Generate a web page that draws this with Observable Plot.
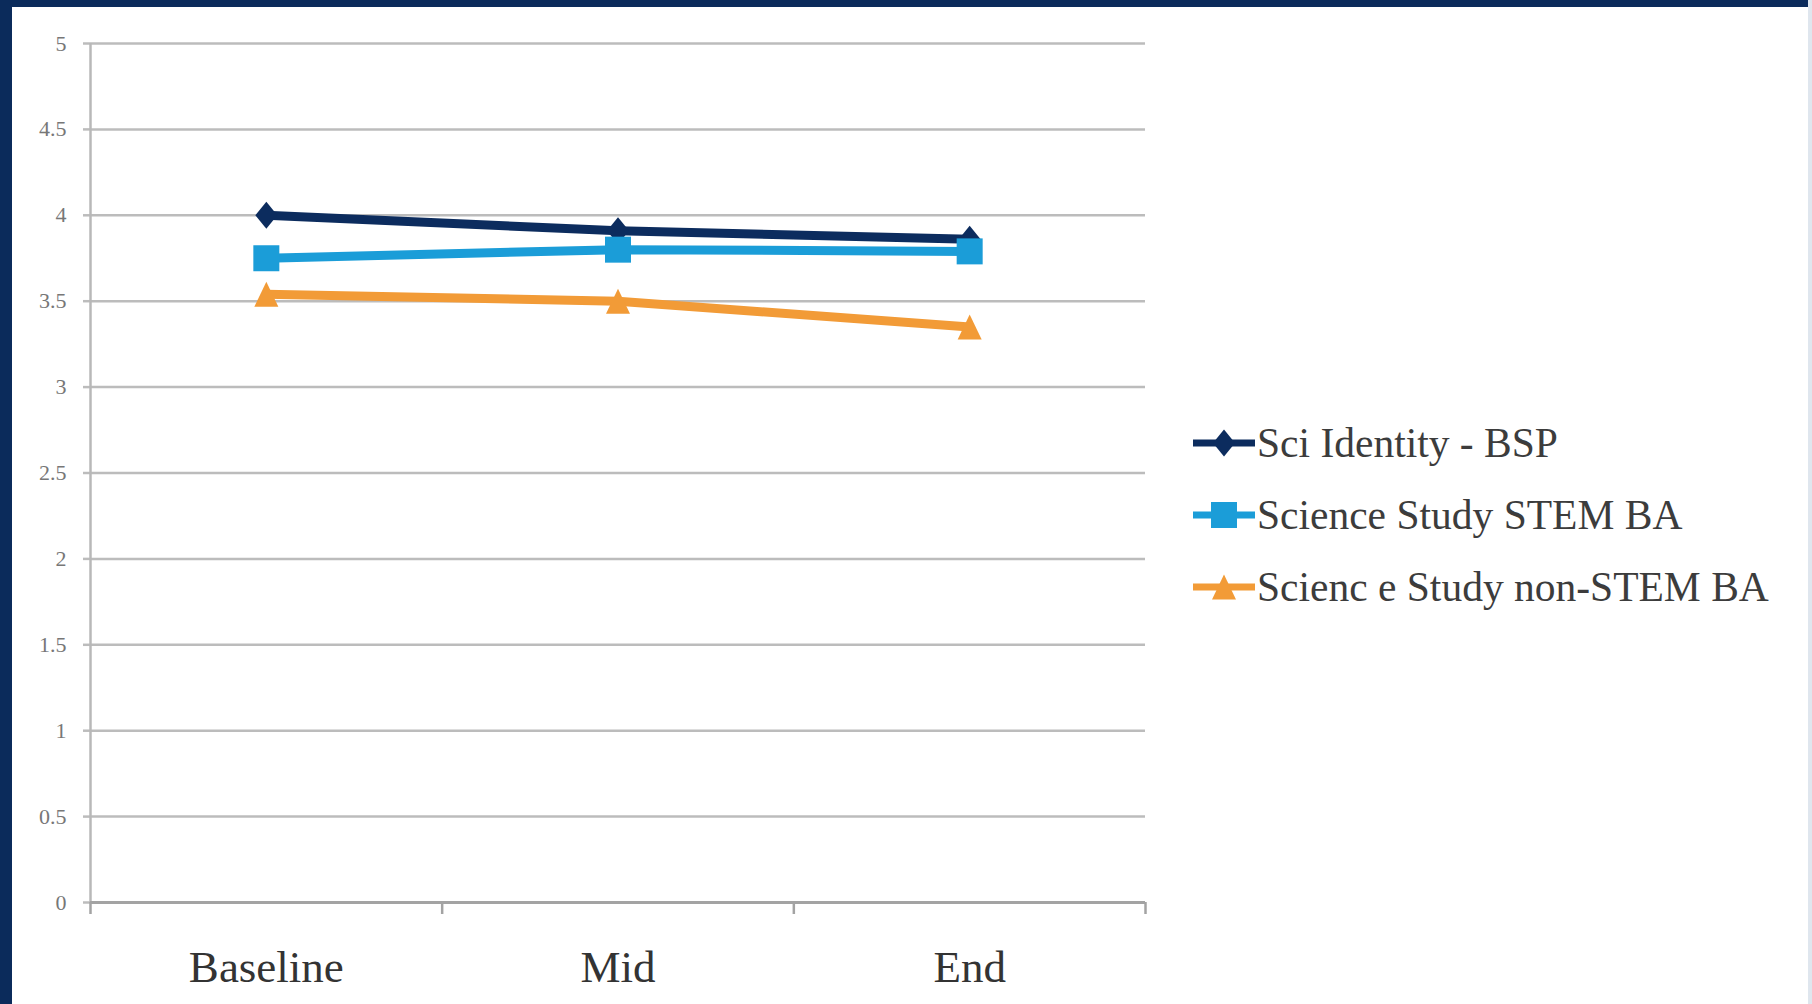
<!DOCTYPE html>
<html>
<head>
<meta charset="utf-8">
<script src="https://cdn.jsdelivr.net/npm/d3@7"></script>
<script src="https://cdn.jsdelivr.net/npm/@observablehq/plot@0.6"></script>
<style>
  html, body { margin: 0; padding: 0; background: #ffffff; }
  #frame { position: relative; width: 1812px; height: 1004px; background: #ffffff; overflow: hidden; }
  #frame .edge { position: absolute; background: #0b2b5b; }
  #chart { position: absolute; left: 0; top: 0; }
  #legend { position: absolute; left: 1193px; top: 418px; font-family: "Liberation Serif", serif; font-size: 41.5px; color: #3c3c3c; }
  #legend .row { display: flex; align-items: center; height: 50px; margin-bottom: 22px; white-space: nowrap; }
  #legend svg { display: block; margin-right: 2px; }
</style>
</head>
<body>
<div id="frame">
  <div class="edge" style="left:0;top:0;width:1812px;height:7px"></div>
  <div class="edge" style="left:0;top:0;width:12px;height:1004px"></div>
  <div class="edge" style="right:0;top:0;width:4px;height:1004px;background:#dfe6ee"></div>
  <div id="chart"></div>
  <div id="legend"></div>
</div>
<script>
// Survey periods along the x axis
const periods = ["Baseline", "Mid", "End"];

// Series names and mean scores at each period
const seriesNames = ["Sci Identity - BSP", "Science Study STEM BA", "Scienc e Study non-STEM BA"];
const sciIdentityBSP = [4.00, 3.91, 3.86];
const scienceStudySTEM = [3.75, 3.80, 3.79];
const scienceStudyNonSTEM = [3.54, 3.50, 3.35];

// Axis ticks
const yTicks = [0, 0.5, 1, 1.5, 2, 2.5, 3, 3.5, 4, 4.5, 5];
const seriesColors = ["#0c2c5e", "#1b9dd8", "#f29b37"];

// Marker shapes (size = PI r^2, so r = sqrt(size / PI))
const tallDiamond = {
  draw(ctx, size) {
    const r = Math.sqrt(size / Math.PI);
    const w = 1.1 * r, h = 1.35 * r;
    ctx.moveTo(0, -h); ctx.lineTo(w, 0); ctx.lineTo(0, h); ctx.lineTo(-w, 0); ctx.closePath();
  }
};
const squareMark = {
  draw(ctx, size) {
    const r = Math.sqrt(size / Math.PI);
    const s = 1.3 * r;
    ctx.rect(-s, -s, 2 * s, 2 * s);
  }
};
const triangleMark = {
  draw(ctx, size) {
    const r = Math.sqrt(size / Math.PI);
    const h = 1.25 * r, w = 1.2 * r;
    ctx.moveTo(0, -h); ctx.lineTo(w, h); ctx.lineTo(-w, h); ctx.closePath();
  }
};
const seriesSymbols = [tallDiamond, squareMark, triangleMark];

// Long-format table: each period sits at the middle of its band (i + 0.5)
const seriesValues = [sciIdentityBSP, scienceStudySTEM, scienceStudyNonSTEM];
const rows = seriesNames.flatMap((name, s) =>
  periods.map((p, i) => ({series: name, period: p, pos: i + 0.5, value: seriesValues[s][i]}))
);

const bandEdges = periods.map((_, i) => i).concat([periods.length]);
const bandCenters = periods.map((_, i) => i + 0.5);

const chart = Plot.plot({
  width: 1812,
  height: 1004,
  marginLeft: 90,
  marginRight: 667,
  marginTop: 43,
  marginBottom: 102,
  style: {fontFamily: "Liberation Serif, serif", background: "transparent", overflow: "visible"},
  x: {domain: [0, periods.length], axis: null},
  y: {domain: [0, 5], axis: null},
  color: {domain: seriesNames, range: seriesColors},
  symbol: {domain: seriesNames, range: seriesSymbols},
  marks: [
    Plot.gridY(yTicks, {stroke: "#bcbcbc", strokeOpacity: 1, strokeWidth: 2.5}),
    Plot.axisY(yTicks, {
      tickSize: 7, tickPadding: 17, stroke: "#bcbcbc", strokeWidth: 2.5,
      fontSize: 22, fill: "#777777", tickFormat: d => String(d), label: null
    }),
    Plot.ruleX([0], {stroke: "#b8b8b8", strokeWidth: 2.5}),
    Plot.ruleY([0], {stroke: "#a3a3a3", strokeWidth: 3}),
    Plot.axisX(bandEdges, {tickSize: 12, stroke: "#a3a3a3", strokeWidth: 2.5, tickFormat: () => "", label: null}),
    Plot.axisX(bandCenters, {
      tickSize: 0, tickPadding: 48, fontSize: 45, fill: "#333333",
      tickFormat: d => periods[Math.floor(d)], label: null
    }),
    Plot.line(rows, {x: "pos", y: "value", z: "series", stroke: "series", strokeWidth: 9, strokeLinejoin: "round"}),
    Plot.dot(rows, {x: "pos", y: "value", symbol: "series", fill: "series", stroke: null, r: 10})
  ]
});
document.getElementById("chart").appendChild(chart);

// Legend: line swatch with centred marker, then the series name
const legend = d3.select("#legend");
seriesNames.forEach((name, s) => {
  const row = legend.append("div").attr("class", "row");
  const svg = row.append("svg").attr("width", 62).attr("height", 40);
  svg.append("line")
    .attr("x1", 1).attr("x2", 61).attr("y1", 20).attr("y2", 20)
    .attr("stroke", seriesColors[s]).attr("stroke-width", 7).attr("stroke-linecap", "round");
  svg.append("path")
    .attr("transform", "translate(31,20)")
    .attr("d", d3.symbol(seriesSymbols[s], Math.PI * 10 * 10)())
    .attr("fill", seriesColors[s]);
  row.append("span").text(name);
});
</script>
</body>
</html>
